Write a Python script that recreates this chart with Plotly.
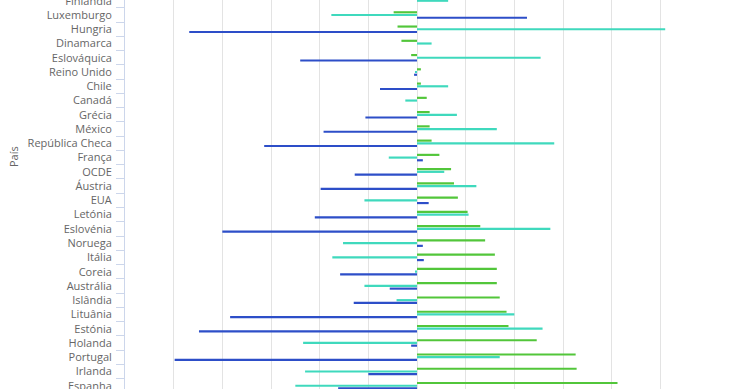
import plotly.graph_objects as go

paises = ["Finlândia", "Luxemburgo", "Hungria", "Dinamarca", "Eslováquica", "Reino Unido",
          "Chile", "Canadá", "Grécia", "México", "República Checa", "França", "OCDE",
          "Áustria", "EUA", "Letónia", "Eslovénia", "Noruega", "Itália", "Coreia",
          "Austrália", "Islândia", "Lituânia", "Estónia", "Holanda", "Portugal",
          "Irlanda", "Espanha"]

serie_verde = [-3.3, -2.4, -2.0, -1.6, -0.6, 0.4, 0.4, 1.0, 1.3, 1.3, 1.5, 2.3, 3.5,
               3.8, 4.2, 5.2, 6.5, 7.0, 8.0, 8.2, 8.2, 8.5, 9.2, 9.4, 12.3, 16.3,
               16.4, 20.6]
serie_turquesa = [3.2, -8.8, 25.5, 1.5, 12.7, -0.2, 3.2, -1.2, 4.1, 8.2, 14.1, -2.9, 2.8,
                  6.1, -5.4, 5.3, 13.7, -7.6, -8.7, -0.2, -5.4, -2.1, 10.0, 12.9, -11.7,
                  8.5, -11.5, -12.5]
serie_azul = [0.0, 11.3, -23.4, 0.0, -12.0, -0.3, -3.8, 0.0, -5.3, -9.6, -15.7, 0.6, -6.4,
              -9.9, 1.2, -10.5, -20.0, 0.6, 0.7, -7.9, -2.8, -6.5, -19.2, -22.4, -0.6,
              -24.9, -5.0, -8.1]

series = [("Série 1", serie_verde, "#52c63a"),
          ("Série 2", serie_turquesa, "#3fd9bd"),
          ("Série 3", serie_azul, "#2d4ec8")]

fig = go.Figure()
for nome, vals, cor in series:
    fig.add_trace(go.Bar(y=paises, x=vals, name=nome, orientation="h",
                         marker=dict(color=cor, line=dict(width=0))))

fig.update_layout(
    width=740, height=389,
    margin=dict(l=125, r=31, t=0, b=0, autoexpand=False),
    paper_bgcolor="white", plot_bgcolor="white",
    barmode="group", bargap=0.43, bargroupgap=0.2,
    showlegend=False,
    font=dict(family="Open Sans", size=11, color="#666666"),
    xaxis=dict(range=[-30, 30], dtick=5, showgrid=True, gridcolor="#e3e3e3",
               gridwidth=1, zeroline=True, zerolinecolor="#e3e3e3", zerolinewidth=1,
               showticklabels=False, showline=False, automargin=False),
    yaxis=dict(type="category", categoryorder="array", categoryarray=paises,
               range=[27.23, -0.052], showgrid=False, zeroline=False, automargin=False,
               showline=True, linecolor="#ccd6eb", linewidth=1,
               ticks="outside", tickson="boundaries", ticklen=8, tickcolor="#ccd6eb",
               ticklabelstandoff=10,
               tickfont=dict(family="Open Sans", size=11, color="#666666")),
    annotations=[dict(text="País", xref="paper", yref="paper",
                      x=(13 - 125) / 584, y=(389 - 157) / 389, showarrow=False,
                      textangle=-90, font=dict(family="Open Sans", size=11, color="#666666"),
                      xanchor="center", yanchor="middle")],
)

fig.write_html("out.html", config={"displayModeBar": False},
               post_script="document.body.style.margin='0';document.body.style.overflow='hidden';")
